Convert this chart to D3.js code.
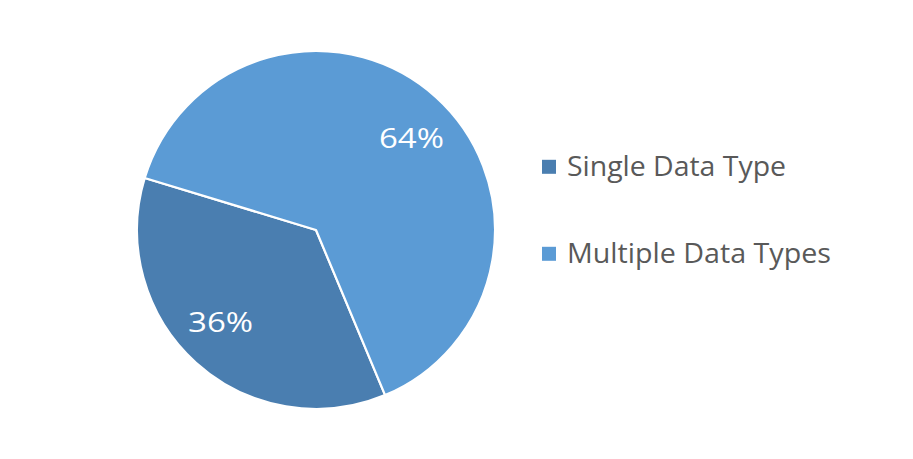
<!DOCTYPE html>
<html><head><meta charset="utf-8">
<script src="https://cdn.jsdelivr.net/npm/d3@7"></script>
<style>body{margin:0;background:#fff}</style>
</head><body>
<svg id="c" width="913" height="459"></svg>
<script>
const categories = ["Single Data Type", "Multiple Data Types"];
const values = [36, 64];
const labels = ["36%", "64%"];
const colors = ["#4a7eb0", "#5b9bd5"];

const svg = d3.select("#c");
const cx = 316, cy = 230, r = 179;
const start = 157.3 * Math.PI / 180;
const pie = d3.pie().sort(null).startAngle(start).endAngle(start + 2 * Math.PI);
const arcs = pie(values);
const arc = d3.arc().innerRadius(0).outerRadius(r);
const g = svg.append("g").attr("transform", `translate(${cx},${cy})`);
g.selectAll("path").data(arcs).join("path")
  .attr("d", arc).attr("fill", (d, i) => colors[i])
  .attr("stroke", "#fff").attr("stroke-width", 2.2).attr("stroke-linejoin", "round");

const labelArc = d3.arc().innerRadius(r * 0.74).outerRadius(r * 0.74);
const lblOffset = 4 * Math.PI / 180;
g.selectAll("text.lbl").data(arcs).join("text").attr("class", "lbl")
  .attr("transform", d => {
    const c = labelArc.centroid({startAngle: d.startAngle + lblOffset, endAngle: d.endAngle + lblOffset});
    return `translate(${c[0]},${c[1]})`;
  })
  .attr("text-anchor", "middle").attr("dy", "0.36em")
  .attr("fill", "#fff").attr("font-family", "Open Sans, sans-serif").attr("font-size", 28)
  .attr("textLength", 65).attr("lengthAdjust", "spacingAndGlyphs")
  .text((d, i) => labels[i]);

const legWidths = [219, 264];
const leg = svg.append("g");
categories.forEach((c, i) => {
  const y = 166.8 + i * 87;
  leg.append("rect").attr("x", 542).attr("y", y - 7).attr("width", 14).attr("height", 14).attr("fill", colors[i]);
  leg.append("text").attr("x", 567).attr("y", y + 9.5)
    .attr("fill", "#595959").attr("font-family", "Open Sans, sans-serif").attr("font-size", 26.5)
    .attr("textLength", legWidths[i]).attr("lengthAdjust", "spacingAndGlyphs")
    .text(c);
});
</script>
</body></html>
